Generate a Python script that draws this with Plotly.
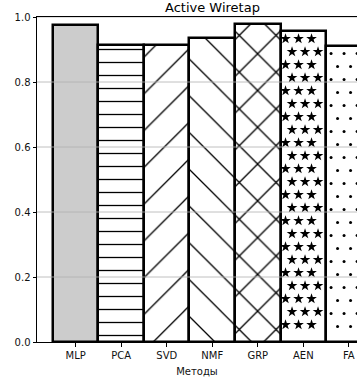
import numpy as np
import plotly.graph_objects as go

methods = ["MLP", "PCA", "SVD", "NMF", "GRP", "AEN", "FA"]
scores = [0.975, 0.914, 0.914, 0.934, 0.977, 0.957, 0.912]
y_ticks = [0.0, 0.2, 0.4, 0.6, 0.8, 1.0]
title = "Active Wiretap"
x_title = "Методы"

# hatch style per bar
hatches = ["", "-", "/", "\\", "x", "*", "."]

W, H = 357, 378
L, R, T, B = 37, 0, 17, 36
x_range = [-0.85, 6.18]
px_per_x = (W - L - R) / (x_range[1] - x_range[0])
px_per_y = (H - T - B) / 1.0

fig = go.Figure()
for i, (m, v, h) in enumerate(zip(methods, scores, hatches)):
    if h == "":
        marker = dict(color="#cccccc", line=dict(color="black", width=2.5))
    elif h == "-":
        marker = dict(color="white", line=dict(color="black", width=2.5),
                      pattern=dict(shape=h, size=13, solidity=0.1, fgcolor="black",
                                   bgcolor="white", fgopacity=1, fillmode="replace"))
    elif h in ("/", "\\"):
        marker = dict(color="white", line=dict(color="black", width=2.5),
                      pattern=dict(shape=h, size=26, solidity=0.05, fgcolor="black",
                                   bgcolor="white", fgopacity=1, fillmode="replace"))
    elif h == "x":
        marker = dict(color="white", line=dict(color="black", width=2.5),
                      pattern=dict(shape=h, size=26, solidity=0.1, fgcolor="black",
                                   bgcolor="white", fgopacity=1, fillmode="replace"))
    else:
        marker = dict(color="white", line=dict(color="black", width=2.5))
    fig.add_trace(go.Bar(x=[i], y=[v], width=1.0, marker=marker, showlegend=False,
                         hoverinfo="skip"))


def lattice(idx, top, step_px=13.0, edge_px=4.0):
    sx = step_px / px_per_x
    sy = step_px / px_per_y
    xs, ys = [], []
    left, right = idx - 0.5, idx + 0.5
    row = 0
    y = top - 0.6 * sy
    while y > 0.5 * sy:
        off = (row % 2) * sx / 2
        x = left + 0.11 + off
        while x < right - edge_px / px_per_x:
            if x > left + edge_px / px_per_x:
                xs.append(x)
                ys.append(y)
            x += sx
        y -= sy
        row += 1
    return xs, ys

for i, (v, h) in enumerate(zip(scores, hatches)):
    if h == "*":
        xs, ys = lattice(i, v)
        fig.add_trace(go.Scatter(x=xs, y=ys, mode="markers", showlegend=False, hoverinfo="skip",
                                 marker=dict(symbol="star", size=8, color="black", line=dict(width=0))))
    elif h == ".":
        xs, ys = lattice(i, v)
        fig.add_trace(go.Scatter(x=xs, y=ys, mode="markers", showlegend=False, hoverinfo="skip",
                                 marker=dict(symbol="circle", size=3, color="black", line=dict(width=0))))

for t in y_ticks[1:]:
    fig.add_shape(type="line", xref="paper", yref="y", x0=0, x1=1, y0=t, y1=t,
                  line=dict(color="#b0b0b0", width=0.8), layer="above")

fig.add_annotation(text=title, xref="paper", yref="paper", x=(212 - L) / (W - L - R), y=1,
                   xanchor="center", yanchor="bottom", yshift=0, showarrow=False,
                   font=dict(size=13, color="black", family="DejaVu Sans"))

fig.update_layout(
    width=W, height=H,
    margin=dict(l=L, r=R, t=T, b=B, pad=0),
    paper_bgcolor="white", plot_bgcolor="white",
    font=dict(family="DejaVu Sans", size=10, color="#111"),
    bargap=0,
    xaxis=dict(range=x_range, tickmode="array", tickvals=list(range(len(methods))),
               ticktext=methods, showgrid=False, showline=True, linecolor="black",
               linewidth=1, mirror=True, ticks="outside", ticklen=3.5, tickcolor="black",
               tickwidth=0.8, zeroline=False, layer="above traces",
               title=dict(text=x_title, standoff=8, font=dict(size=10))),
    yaxis=dict(range=[0, 1.0], tickmode="array", tickvals=y_ticks,
               ticktext=[f"{t:.1f}" for t in y_ticks], showgrid=False, showline=True,
               linecolor="black", linewidth=1, ticks="outside", ticklen=3.5,
               tickcolor="black", tickwidth=0.8, zeroline=False, layer="above traces"),
)

fig.write_html("out.html")
